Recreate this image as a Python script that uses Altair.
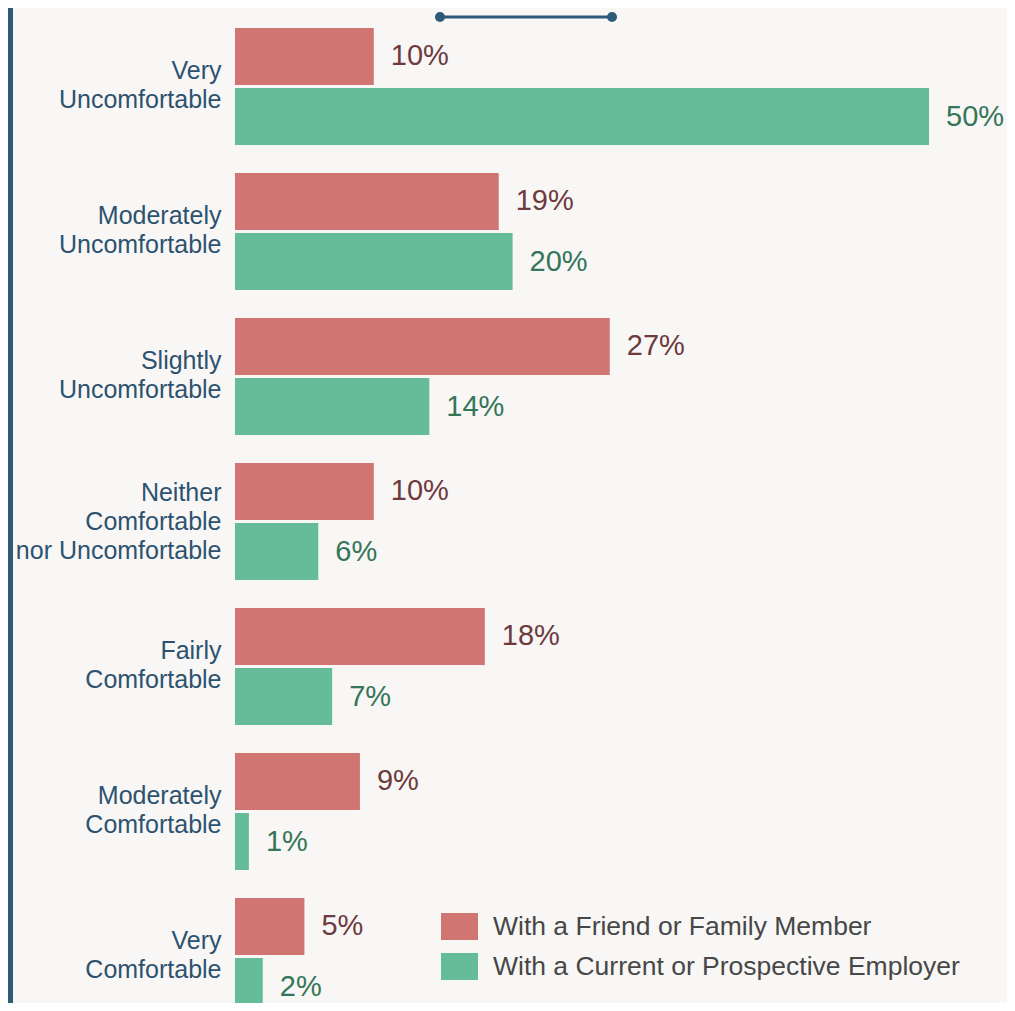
import altair as alt
import pandas as pd

categories = [
    "Very\nUncomfortable",
    "Moderately\nUncomfortable",
    "Slightly\nUncomfortable",
    "Neither\nComfortable\nnor Uncomfortable",
    "Fairly\nComfortable",
    "Moderately\nComfortable",
    "Very\nComfortable",
]
series_names = ["With a Friend or Family Member", "With a Current or Prospective Employer"]
friend = [10, 19, 27, 10, 18, 9, 5]
employer = [50, 20, 14, 6, 7, 1, 2]

bar_colors = ["#d07572", "#64bc98"]
text_colors = ["#6e3a3d", "#357558"]
axis_color = "#2d5270"
deco_color = "#2f5a78"

rows = []
for c, f, e in zip(categories, friend, employer):
    rows.append({"cat": c, "series": series_names[0], "value": f})
    rows.append({"cat": c, "series": series_names[1], "value": e})
df = pd.DataFrame(rows)
df["label"] = df["value"].astype(str) + "%"

FONT = "Liberation Sans"

y = alt.Y(
    "cat:N",
    sort=categories,
    scale=alt.Scale(range=[0, 1015], paddingInner=0.193, paddingOuter=0.0965),
    axis=alt.Axis(
        title=None,
        domain=False,
        ticks=False,
        grid=False,
        labelExpr="split(datum.label, '\\n')",
        labelFontSize=25,
        labelFont=FONT,
        labelColor=axis_color,
        labelPadding=14,
        labelLineHeight=29,
        labelLimit=400,
        labelOffset={
            "condition": {"test": "indexof(datum.value, 'Neither') >= 0", "value": -29},
            "value": -16,
        },
    ),
)
yoff = alt.YOffset("series:N", sort=series_names, scale=alt.Scale(paddingInner=0.05))
x = alt.X("value:Q", scale=alt.Scale(domain=[0, 50]), axis=None)

base = alt.Chart(df)

bars = base.mark_bar(clip=True).encode(
    y=y,
    yOffset=yoff,
    x=x,
    color=alt.Color(
        "series:N",
        sort=series_names,
        scale=alt.Scale(domain=series_names, range=bar_colors),
        legend=alt.Legend(
            title=None,
            orient="none",
            legendX=206,
            legendY=894,
            symbolType="M-1,-0.73H1V0.73H-1Z",
            symbolSize=1369,
            symbolStrokeWidth=0,
            symbolOpacity=1,
            labelFontSize=26.5,
            labelFont=FONT,
            labelColor="#474747",
            labelOffset=15,
            rowPadding=7,
            labelLimit=600,
            padding=0,
        ),
    ),
)

texts = base.mark_text(
    align="left", baseline="middle", dx=17, fontSize=29, font=FONT
).encode(
    y=y,
    yOffset=yoff,
    x=x,
    text="label:N",
    color=alt.Color(
        "series:N",
        sort=series_names,
        scale=alt.Scale(domain=series_names, range=text_colors),
        legend=None,
    ),
)

deco_df = pd.DataFrame({"k": [0]})
top_line = alt.Chart(deco_df).mark_rule(color=deco_color, strokeWidth=3).encode(
    x=alt.value(205), x2=alt.value(377), y=alt.value(3)
)
dot1 = alt.Chart(deco_df).mark_circle(color=deco_color, size=100, opacity=1).encode(
    x=alt.value(205), y=alt.value(3)
)
dot2 = alt.Chart(deco_df).mark_circle(color=deco_color, size=100, opacity=1).encode(
    x=alt.value(377), y=alt.value(3)
)
left_line = alt.Chart(deco_df).mark_rule(color=deco_color, strokeWidth=5).encode(
    x=alt.value(-224.5), y=alt.value(-6), y2=alt.value(989)
)

chart = (
    alt.layer(bars, texts, top_line, dot1, dot2, left_line)
    .resolve_scale(color="independent")
    .properties(
        width=694,
        height=989,
        padding={"left": 227, "right": 78, "top": 6, "bottom": 0},
        autosize=alt.AutoSizeParams(type="none"),
        background="#f8f7f5",
    )
    .configure_view(stroke=None)
)

chart.save("out.html", embed_options={"renderer": "svg", "actions": False})
